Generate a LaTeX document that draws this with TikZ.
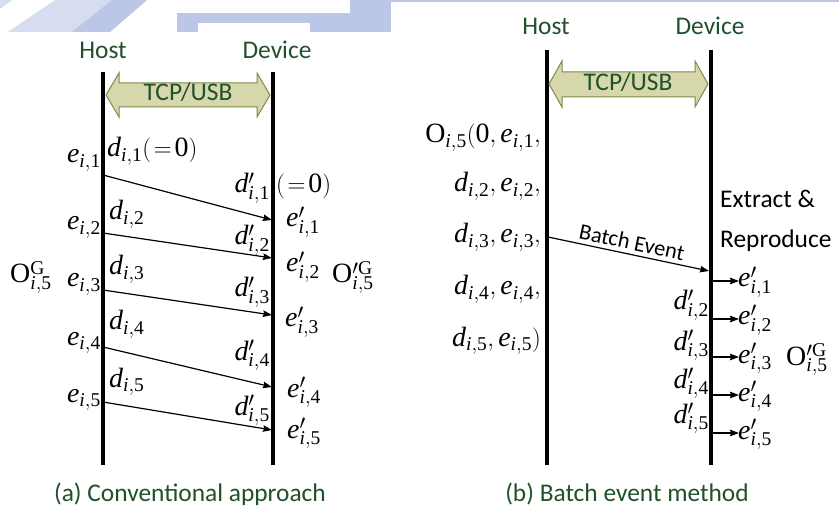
\documentclass[tikz,border=0pt]{standalone}
\usepackage{fontspec}
\setmainfont{Liberation Serif}
\newfontfamily\labelsans{Carlito}
\usetikzlibrary{arrows.meta}

\definecolor{labgreen}{HTML}{21502C}
\definecolor{linkfill}{HTML}{D6D7AA}
\definecolor{linkedge}{HTML}{7E8B4C}
\definecolor{wmblue}{HTML}{BCC6E6}
\definecolor{wmpale}{HTML}{D6DDF1}

% italic variables and upright digits in the serif text face
\newcommand\vE[1]{\mathit{e}_{\mathit{i},\mathrm{#1}}}
\newcommand\vD[1]{\mathit{d}_{\mathit{i},\mathrm{#1}}}
\newcommand\vEp[1]{\mathit{e}^{\prime}_{\mathit{i},\mathrm{#1}}}
\newcommand\vDp[1]{\mathit{d}^{\prime}_{\mathit{i},\mathrm{#1}}}
\newcommand\eqzero{\mathrm{(}\mkern2mu\mathrm{=}\mkern2mu\mathrm{0)}}

\tikzset{
  lane/.style={line width=4bp},
  msg/.style={line width=1.2bp, -{Stealth[length=9bp,width=6.5bp,inset=1bp]}},
  sans/.style={font=\labelsans\fontsize{25.5}{28}\selectfont, text=labgreen, inner sep=0pt},
  tag/.style={font=\labelsans\fontsize{25.5}{28}\selectfont, inner sep=0pt},
  mth/.style={font=\fontsize{28}{32}\selectfont, inner sep=0pt},
  link/.style={fill=linkfill, draw=linkedge, line width=1bp, line join=miter},
}

\begin{document}
\begin{tikzpicture}[x=1bp, y=-1bp]
\useasboundingbox (0,0) rectangle (839,511);
\fill[white] (0,0) rectangle (839,511);

% faint header band
\fill[wmpale] (8,32) -- (55,0) -- (147,0) -- (110,32) -- cycle;
\fill[wmblue] (72,32) -- (112,0) -- (147,0) -- (110,32) -- cycle;
\fill[wmpale] (0,0) -- (12,0) -- (0,9) -- cycle;
\fill[wmblue] (177,13) rectangle (350,32);
\fill[white] (198,23) rectangle (310,32);
\fill[wmblue] (350,0) rectangle (391,32);
\fill[wmblue] (391,0) rectangle (839,2.5);

% ---------------- (a) conventional approach ----------------
\coordinate (aHtop) at (103,72);  \coordinate (aHbot) at (103,465);
\coordinate (aDtop) at (273,72);  \coordinate (aDbot) at (273,465);
\draw[lane] (aHtop) -- (aHbot);
\draw[lane] (aDtop) -- (aDbot);
\node[sans, anchor=base] (aHost) at (103,59) {Host};
\node[sans, anchor=base] (aDev) at (277,59) {Device};

\path[link] (106,95) -- (119,73) -- (119,83) -- (257,83) -- (257,73) -- (270,95)
  -- (257,117) -- (257,107) -- (119,107) -- (119,117) -- cycle;
\node[sans, anchor=base] (aLink) at (188,101) {TCP/USB};

\foreach \k/\ys/\yt in {1/175/220, 2/233/258, 3/290/315, 4/347/387, 5/402/430} {
  \coordinate (as\k) at (103,\ys);
  \coordinate (at\k) at (272,\yt);
  \draw[msg] (as\k) -- (at\k);
}

% host side
\node[mth, anchor=base east] (ae1) at (101,163) {$\vE{1}$};
\node[mth, anchor=base east] (ae2) at (101,230) {$\vE{2}$};
\node[mth, anchor=base east] (ae3) at (101,287) {$\vE{3}$};
\node[mth, anchor=base east] (ae4) at (101,345) {$\vE{4}$};
\node[mth, anchor=base east] (ae5) at (101,402) {$\vE{5}$};
\node[mth, anchor=base west] (ad1) at (107,157) {$\vD{1}\eqzero$};
\node[mth, anchor=base west] (ad2) at (109,220) {$\vD{2}$};
\node[mth, anchor=base west] (ad3) at (109,275) {$\vD{3}$};
\node[mth, anchor=base west] (ad4) at (109,330) {$\vD{4}$};
\node[mth, anchor=base west] (ad5) at (109,387) {$\vD{5}$};
\node[mth, anchor=base west] (aOG) at (10,283) {$\mathrm{O}^{\mathrm{G}}_{\mathit{i},\mathrm{5}}$};

% device side
\node[mth, anchor=base east] (adp1) at (270,193) {$\vDp{1}$};
\node[mth, anchor=base west] (azero) at (276,193) {$\eqzero$};
\node[mth, anchor=base east] (adp2) at (270,245) {$\vDp{2}$};
\node[mth, anchor=base east] (adp3) at (270,297) {$\vDp{3}$};
\node[mth, anchor=base east] (adp4) at (270,360) {$\vDp{4}$};
\node[mth, anchor=base east] (adp5) at (270,415) {$\vDp{5}$};
\node[mth, anchor=base west] (aep1) at (286,227) {$\vEp{1}$};
\node[mth, anchor=base west] (aep2) at (286,272) {$\vEp{2}$};
\node[mth, anchor=base west] (aep3) at (285,327) {$\vEp{3}$};
\node[mth, anchor=base west] (aep4) at (287,397) {$\vEp{4}$};
\node[mth, anchor=base west] (aep5) at (287,438) {$\vEp{5}$};
\node[mth, anchor=base west] (aOGp) at (332,283) {$\mathrm{O}^{\prime\mathrm{G}}_{\mathit{i},\mathrm{5}}$};

\node[sans, anchor=base] (acap) at (190,501) {(a) Conventional approach};

% ---------------- (b) batch event method ----------------
\coordinate (bHtop) at (547,50);  \coordinate (bHbot) at (547,465);
\coordinate (bDtop) at (711,50);  \coordinate (bDbot) at (711,465);
\draw[lane] (bHtop) -- (bHbot);
\draw[lane] (bDtop) -- (bDbot);
\node[sans, anchor=base] (bHost) at (546,35) {Host};
\node[sans, anchor=base] (bDev) at (710,35) {Device};

\path[link] (549,84) -- (562,61) -- (562,72) -- (695,72) -- (695,61) -- (708,84)
  -- (695,107) -- (695,97) -- (562,97) -- (562,107) -- cycle;
\node[sans, anchor=base] (bLink) at (628,91) {TCP/USB};

\node[mth, anchor=base east] (bl1) at (541,143) {$\mathrm{O}_{\mathit{i},\mathrm{5}}\mathrm{(0},\vE{1},$};
\node[mth, anchor=base east] (bl2) at (541,192) {$\vD{2},\vE{2},$};
\node[mth, anchor=base east] (bl3) at (541,243) {$\vD{3},\vE{3},$};
\node[mth, anchor=base east] (bl4) at (541,295) {$\vD{4},\vE{4},$};
\node[mth, anchor=base east] (bl5) at (541,346) {$\vD{5},\vE{5}\mathrm{)}$};

\coordinate (bs) at (548,237);
\coordinate (bt) at (709,271);
\draw[msg] (bs) -- (bt);
\node[font=\labelsans\fontsize{22.5}{24}\selectfont, inner sep=0pt, rotate=-11.9]
  (blabel) at (632,242) {Batch Event};

\node[tag, anchor=base west] (bx1) at (720,208) {Extract \&};
\node[tag, anchor=base west] (bx2) at (720,248) {Reproduce};

\foreach \k/\y in {1/281, 2/319, 3/357, 4/395, 5/433} {
  \coordinate (bo\k) at (713,\y);
  \coordinate (bp\k) at (739,\y);
  \draw[msg] (bo\k) -- (bp\k);
}
\node[mth, anchor=base west] (bep1) at (738,287) {$\vEp{1}$};
\node[mth, anchor=base west] (bep2) at (738,325) {$\vEp{2}$};
\node[mth, anchor=base west] (bep3) at (738,363) {$\vEp{3}$};
\node[mth, anchor=base west] (bep4) at (738,401) {$\vEp{4}$};
\node[mth, anchor=base west] (bep5) at (738,439) {$\vEp{5}$};
\node[mth, anchor=base east] (bdp2) at (709,310) {$\vDp{2}$};
\node[mth, anchor=base east] (bdp3) at (709,350) {$\vDp{3}$};
\node[mth, anchor=base east] (bdp4) at (709,388) {$\vDp{4}$};
\node[mth, anchor=base east] (bdp5) at (709,423) {$\vDp{5}$};
\node[mth, anchor=base west] (bOGp) at (786,365) {$\mathrm{O}^{\prime\mathrm{G}}_{\mathit{i},\mathrm{5}}$};

\node[sans, anchor=base] (bcap) at (627,501) {(b) Batch event method};
\end{tikzpicture}
\end{document}
